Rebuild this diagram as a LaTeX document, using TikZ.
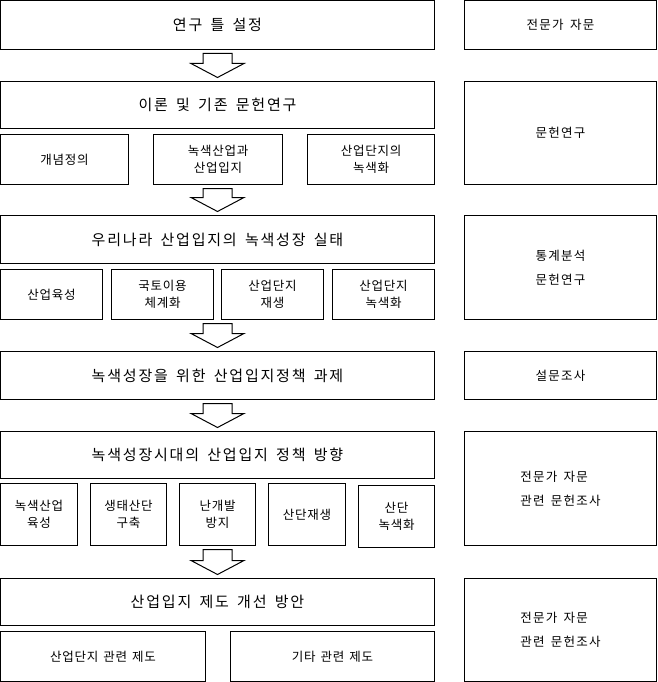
\documentclass[tikz,border=0pt]{standalone}
\usepackage{fontspec}
\setmainfont{Noto Sans CJK KR}
\newfontfamily\titlefont[LetterSpace=12, WordSpace=1.6]{Noto Sans CJK KR}
\newfontfamily\itemfont[LetterSpace=6, WordSpace=1.4]{Noto Sans CJK KR}
\newfontfamily\sidefont[LetterSpace=10, WordSpace=1.6]{Noto Sans CJK KR}
\usepackage{tikz}
\usetikzlibrary{calc}
\tikzset{
    block/.style={
        rectangle,
        draw=black,
        line width=1pt,
        inner sep=0pt,
        outer sep=0pt,
        text centered,
        minimum width=434pt,
        font=\titlefont\fontsize{15}{18}\selectfont
    },
    subblock/.style={
        block,
        align=center,
        minimum height=50pt,
        font=\itemfont\fontsize{12.5}{17}\selectfont
    },
    sideblock/.style={
        block,
        align=left,
        minimum width=192pt,
        font=\sidefont\fontsize{12.5}{24}\selectfont
    },
    flowarrow/.style={
        draw=black,
        line width=1pt,
        line join=miter
    }
}
% hollow block arrow between two boxes
\newcommand{\flowarrow}[2]{%
    \draw[flowarrow] let \p1=(#1.south), \p2=(#2.north) in
        (\x2-14.5pt,\y1-4pt) -- (\x2+14.5pt,\y1-4pt) -- (\x2+14.5pt,\y2+18pt)
        -- (\x2+26.5pt,\y2+18pt) -- (\x2,\y2+4pt) -- (\x2-26.5pt,\y2+18pt)
        -- (\x2-14.5pt,\y2+18pt) -- cycle;
}

\begin{document}
\begin{tikzpicture}[x=1pt, y=-1pt]
\useasboundingbox (-0.5,-0.5) rectangle (656.5,681.5);

% Main steps
\node[block, minimum height=49pt] (frame) at (217,24.5) {연구 틀 설정};
\node[block, minimum height=47pt] (theory) at (217,104.5) {이론 및 기존 문헌연구};
\node[block, minimum height=48pt] (status) at (217,239) {우리나라 산업입지의 녹색성장 실태};
\node[block, minimum height=48pt] (task) at (217,375) {녹색성장을 위한 산업입지정책 과제};
\node[block, minimum height=47pt] (direction) at (217,454.5) {녹색성장시대의 산업입지 정책 방향};
\node[block, minimum height=47pt] (reform) at (217,601.5) {산업입지 제도 개선 방안};

% Theory sub-topics
\node[subblock, minimum width=128pt] (define) at (64,159) {개념정의};
\node[subblock, minimum width=129pt] (greenind) at (217.5,159) {녹색산업과\\산업입지};
\node[subblock, minimum width=127pt] (greencomplex) at (370.5,159) {산업단지의\\녹색화};

% Status sub-topics
\node[subblock, minimum width=102pt] (foster) at (51,294) {산업육성};
\node[subblock, minimum width=102pt] (landuse) at (162,294) {국토이용\\체계화};
\node[subblock, minimum width=102pt] (regen) at (272,294) {산업단지\\재생};
\node[subblock, minimum width=102pt] (greening) at (383,294) {산업단지\\녹색화};

% Direction sub-topics
\node[subblock, minimum width=77pt, minimum height=62pt] (dirind) at (38.5,514) {녹색산업\\육성};
\node[subblock, minimum width=76pt, minimum height=62pt] (dirbuild) at (128,514) {생태산단\\구축};
\node[subblock, minimum width=76pt, minimum height=62pt] (dirsprawl) at (217,514) {난개발\\방지};
\node[subblock, minimum width=77pt, minimum height=62pt] (dirregen) at (306.5,514) {산단재생};
\node[subblock, minimum width=76pt, minimum height=62pt] (dirgreen) at (396,516) {산단\\녹색화};

% Reform sub-topics
\node[subblock, minimum width=205pt] (lawcomplex) at (102.5,656) {산업단지 관련 제도};
\node[subblock, minimum width=204pt] (lawother) at (332,656) {기타 관련 제도};

% Methods
\node[sideblock, minimum height=49pt] (m1) at (560,24.5) {전문가 자문};
\node[sideblock, minimum height=103pt] (m2) at (560,132.5) {문헌연구};
\node[sideblock, minimum height=104pt] (m3) at (560,267) {통계분석\\문헌연구};
\node[sideblock, minimum height=48pt] (m4) at (560,375) {설문조사};
\node[sideblock, minimum height=114pt] (m5) at (560,488) {전문가 자문\\관련 문헌조사};
\node[sideblock, minimum height=103pt] (m6) at (560,629.5) {전문가 자문\\관련 문헌조사};

% Arrows
\flowarrow{frame}{theory}
\flowarrow{greenind}{status}
\flowarrow{regen}{task}
\flowarrow{task}{direction}
\flowarrow{dirsprawl}{reform}

\end{tikzpicture}
\end{document}
